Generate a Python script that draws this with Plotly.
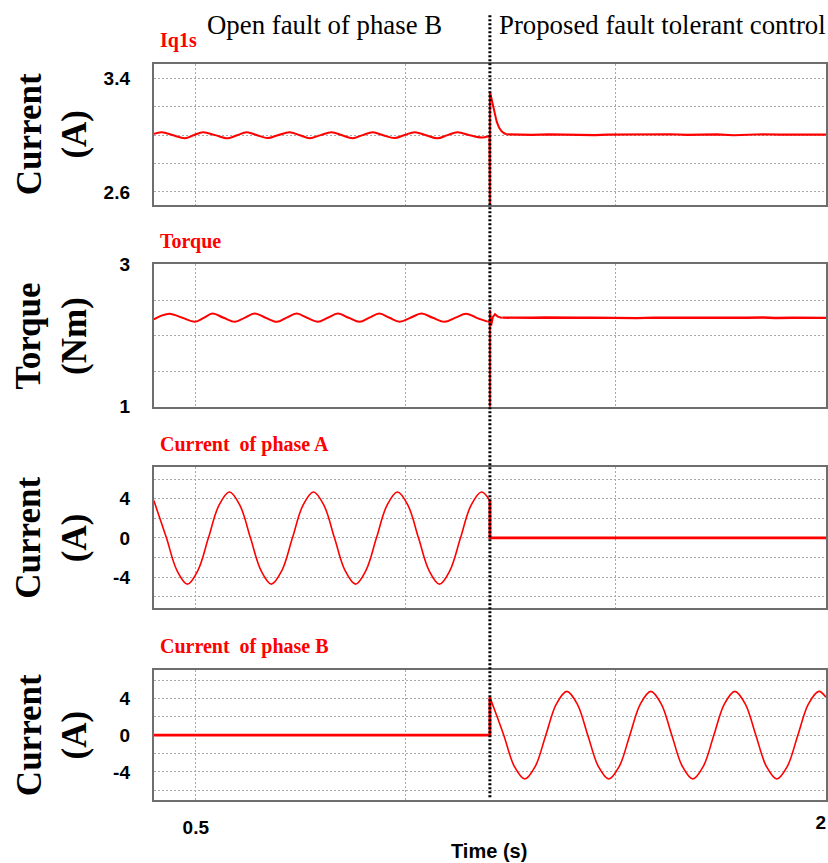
import plotly.graph_objects as go

W, H = 828, 863
FAULT_T = 1.2
T_RANGE = [0.4, 2.0]

# ---- Iq1s current (A) ----
iq_t_pre = [0.400, 0.419, 0.446, 0.474, 0.496, 0.517, 0.546, 0.576, 0.598, 0.621,
            0.646, 0.671, 0.697, 0.723, 0.748, 0.771, 0.797, 0.823, 0.848, 0.873,
            0.897, 0.921, 0.946, 0.973, 0.997, 1.021, 1.048, 1.075, 1.099, 1.123,
            1.152, 1.180, 1.199]
iq_v_pre = [3.010, 3.021, 3.000, 2.979, 3.002, 3.021, 3.001, 2.979, 3.000, 3.021,
            3.000, 2.980, 3.002, 3.021, 3.000, 2.979, 3.001, 3.021, 3.000, 2.979,
            3.001, 3.021, 3.000, 2.980, 3.002, 3.022, 3.000, 2.978, 3.001, 3.021,
            3.000, 2.984, 2.995]
iq_t_step = [1.199, 1.200, 1.200, 1.203, 1.206, 1.210, 1.216, 1.222, 1.228, 1.234, 1.240]
iq_v_step = [2.995, 2.400, 3.309, 3.268, 3.232, 3.170, 3.098, 3.052, 3.028, 3.014, 3.006]
iq_t_post = [1.240, 1.270, 1.300, 1.340, 1.370, 1.410, 1.450, 1.480, 1.520, 1.560, 1.600,
             1.630, 1.670, 1.710, 1.740, 1.780, 1.820, 1.850, 1.890, 1.930, 1.960, 2.000]
iq_v_post = [3.006, 3.005, 3.002, 3.006, 3.004, 3.006, 3.001, 3.005, 3.006, 3.004, 3.005,
             3.007, 3.003, 3.005, 3.006, 3.000, 3.005, 3.007, 3.004, 3.005, 3.003, 3.005]

# ---- Electromagnetic torque (Nm) ----
tq_t_pre = [0.400, 0.418, 0.438, 0.468, 0.498, 0.519, 0.540, 0.566, 0.593, 0.616,
            0.640, 0.666, 0.693, 0.716, 0.740, 0.765, 0.790, 0.814, 0.838, 0.864,
            0.890, 0.913, 0.937, 0.961, 0.985, 1.011, 1.037, 1.064, 1.092, 1.118,
            1.144, 1.170, 1.195]
tq_v_pre = [2.227, 2.280, 2.308, 2.250, 2.195, 2.250, 2.309, 2.250, 2.194, 2.250,
            2.310, 2.250, 2.193, 2.252, 2.309, 2.250, 2.194, 2.251, 2.310, 2.250,
            2.193, 2.252, 2.309, 2.250, 2.195, 2.251, 2.310, 2.250, 2.194, 2.252,
            2.308, 2.245, 2.196]
tq_t_step = [1.195, 1.200, 1.200, 1.200, 1.203, 1.207, 1.212, 1.218, 1.225, 1.230]
tq_v_step = [2.196, 2.200, 0.800, 2.360, 2.140, 2.260, 2.300, 2.270, 2.255, 2.252]
tq_t_post = [1.230, 1.260, 1.300, 1.330, 1.370, 1.410, 1.440, 1.480, 1.520, 1.550, 1.590,
             1.630, 1.660, 1.700, 1.740, 1.770, 1.810, 1.850, 1.880, 1.920, 1.960, 2.000]
tq_v_post = [2.252, 2.248, 2.251, 2.254, 2.247, 2.250, 2.253, 2.249, 2.251, 2.246, 2.252,
             2.250, 2.248, 2.253, 2.250, 2.247, 2.251, 2.255, 2.248, 2.250, 2.252, 2.249]

# ---- Phase A current (A): sinusoid until the fault, then zero ----
ia_t_pre = [0.400, 0.430, 0.455, 0.480, 0.505, 0.530, 0.555, 0.580, 0.605, 0.630,
            0.655, 0.680, 0.705, 0.730, 0.755, 0.780, 0.805, 0.830, 0.855, 0.880,
            0.905, 0.930, 0.955, 0.980, 1.005, 1.030, 1.055, 1.080, 1.105, 1.130,
            1.155, 1.180, 1.200]
ia_v_pre = [3.80, 0.00, -3.32, -4.72, -3.32, 0.00, 3.32, 4.68, 3.32, 0.00,
            -3.32, -4.72, -3.32, 0.00, 3.32, 4.68, 3.32, 0.00, -3.32, -4.72,
            -3.32, 0.00, 3.32, 4.68, 3.32, 0.00, -3.32, -4.72, -3.32, 0.00,
            3.32, 4.68, 3.80]
ia_t_post = [1.200, 1.200, 2.000]
ia_v_post = [3.80, 0.00, 0.00]

# ---- Phase B current (A): zero while open, restored by the tolerant control ----
ib_t_pre = [0.400, 1.200, 1.200]
ib_v_pre = [0.00, 0.00, 4.13]
ib_t_post = [1.200, 1.233, 1.258, 1.283, 1.308, 1.333, 1.358, 1.383, 1.408, 1.433,
             1.458, 1.483, 1.508, 1.533, 1.558, 1.583, 1.608, 1.633, 1.658, 1.683,
             1.708, 1.733, 1.758, 1.783, 1.808, 1.833, 1.858, 1.883, 1.908, 1.933,
             1.958, 1.983, 2.000]
ib_v_post = [4.13, 0.00, -3.39, -4.78, -3.39, 0.00, 3.39, 4.78, 3.39, 0.00,
             -3.39, -4.78, -3.39, 0.00, 3.39, 4.78, 3.39, 0.00, -3.39, -4.78,
             -3.39, 0.00, 3.39, 4.78, 3.39, 0.00, -3.39, -4.78, -3.39, 0.00,
             3.39, 4.78, 4.13]

# ---- Axis ticks ----
x_grid = [0.5, 1.0, 1.5, 2.0]
x_ticktext = ["0.5", "", "", ""]
x_end_tick = [2.0]
x_end_text = ["2"]
iq_ticks = [2.6, 2.8, 3.0, 3.2, 3.4]
iq_ticktext = ["2.6", "", "", "", "3.4"]
tq_ticks = [1.0, 1.5, 2.0, 2.5, 3.0]
tq_ticktext = ["1", "", "", "", "3"]
ph_ticks = [-6, -4, -2, 0, 2, 4, 6]
ph_ticktext = ["", "-4", "", "0", "", "4", ""]

RED = "#ff0000"
SERIF = "Liberation Serif"
SANS = "Liberation Sans"

# the drawing area spans pixels x 0..828, y 8..855 of the page
AREA_X0, AREA_W = 0.0, 828.0
AREA_Y0, AREA_H = 8.0, 847.0


def px_x(p):
    return min(1.0, max(0.0, (p - AREA_X0) / AREA_W))


def px_y(p):
    return 1 - (p - AREA_Y0) / AREA_H


# panel pixel extents (top, bottom)
panels = [(62, 204), (264, 407), (468, 610), (672, 803)]
x_dom = [px_x(154), px_x(827)]

fig = go.Figure()


def add(t, v, k, width, shape="linear", xk=None):
    sfx = "" if k == 1 else str(k)
    xs = sfx if xk is None else str(xk)
    line = dict(color=RED, width=width, shape=shape)
    if shape == "spline":
        line["smoothing"] = 1.0
    fig.add_trace(go.Scatter(x=t, y=v, mode="lines", line=line,
                             xaxis="x" + xs, yaxis="y" + sfx,
                             hoverinfo="skip", showlegend=False))


add(iq_t_pre, iq_v_pre, 1, 2.0, "spline")
add(iq_t_step, iq_v_step, 1, 2.0)
add(iq_t_post, iq_v_post, 1, 2.2)
add(tq_t_pre, tq_v_pre, 2, 2.0, "spline")
add(tq_t_step, tq_v_step, 2, 2.0)
add(tq_t_post, tq_v_post, 2, 2.4)
add(ia_t_pre, ia_v_pre, 3, 1.6, "spline")
add(ia_t_post, ia_v_post, 3, 2.8)
add(ib_t_pre, ib_v_pre, 4, 2.8)
# post-fault phase B is tied to the overlay axis that carries the end label
add(ib_t_post, ib_v_post, 4, 1.6, "spline", xk=5)

grid = dict(showgrid=True, gridcolor="#a8a8a8", gridwidth=1, griddash="2px,2px",
            zeroline=False, showline=True, linecolor="#6e6e6e", linewidth=2,
            mirror=True, ticks="")
tick_font = dict(family=SANS, size=19, color="black", weight="bold")

y_specs = [
    ([2.509, 3.505], iq_ticks, iq_ticktext),
    ([1.0, 3.0], tq_ticks, tq_ticktext),
    ([-7.2, 7.2], ph_ticks, ph_ticktext),
    ([-7.1, 7.1], ph_ticks, ph_ticktext),
]

layout = dict(width=W, height=H, autosize=False,
              margin=dict(l=0, r=0, t=0, b=0),
              paper_bgcolor="white", plot_bgcolor="white")

for i, ((top, bot), (yr, yt, ytt)) in enumerate(zip(panels, y_specs), start=1):
    sfx = "" if i == 1 else str(i)
    layout["xaxis" + sfx] = dict(
        grid, domain=x_dom, range=T_RANGE, anchor="y" + sfx,
        tickvals=x_grid, ticktext=x_ticktext,
        showticklabels=(i == 4), tickfont=tick_font, ticklabelstandoff=9)
    layout["yaxis" + sfx] = dict(
        grid, domain=[px_y(bot), px_y(top)], range=yr, anchor="x" + sfx,
        tickvals=yt, ticktext=ytt, tickfont=tick_font, ticklabelstandoff=18)

# overlay time axis: end-of-range label placed left of its tick
layout["xaxis5"] = dict(
    overlaying="x4", anchor="y4", side="bottom", domain=x_dom, range=T_RANGE,
    showgrid=False, zeroline=False, showline=False, ticks="",
    tickvals=x_end_tick, ticktext=x_end_text, ticklabelposition="outside left",
    tickfont=tick_font, ticklabelstandoff=9)

fig.update_layout(**layout)

# fault instant marker
fig.add_shape(type="line", xref="x", yref="paper",
              x0=FAULT_T, x1=FAULT_T, y0=px_y(800), y1=px_y(12),
              line=dict(color="black", width=3, dash="2px,2px"), layer="above")

ann = []
# mode headings
ann.append(dict(text="Open fault of phase B", x=px_x(205), y=px_y(23),
                xanchor="left", yanchor="middle",
                font=dict(family=SERIF, size=26.8, color="black")))
ann.append(dict(text="Proposed fault tolerant control", x=px_x(498), y=px_y(23),
                xanchor="left", yanchor="middle",
                font=dict(family=SERIF, size=26.8, color="black")))
# signal names
for txt, py in [("Iq1s", 39), ("Torque", 241), ("Current  of phase A", 445),
                ("Current  of phase B", 648)]:
    ann.append(dict(text="<b>" + txt.replace("  ", "\u00a0 ") + "</b>",
                    x=px_x(158), y=px_y(py), xanchor="left", yanchor="middle",
                    font=dict(family=SERIF, size=20, color=RED)))
# y axis titles
for (top, bot), (q, u) in zip(panels, [("Current", "(A)"), ("Torque", "(Nm)"),
                                       ("Current", "(A)"), ("Current", "(A)")]):
    ann.append(dict(text="<b>%s</b><br><b>%s</b>" % (q, u), textangle=-90,
                    x=px_x(52), y=px_y((top + bot) / 2),
                    xanchor="center", yanchor="middle",
                    font=dict(family=SERIF, size=35, color="black")))
# time axis title
ann.append(dict(text="<b>Time (s)</b>", x=px_x(490), y=px_y(854),
                xanchor="center", yanchor="middle",
                font=dict(family=SANS, size=20, color="black")))

for a in ann:
    a.update(xref="paper", yref="paper", showarrow=False)
fig.update_layout(annotations=ann)

fig.write_html("out.html")
